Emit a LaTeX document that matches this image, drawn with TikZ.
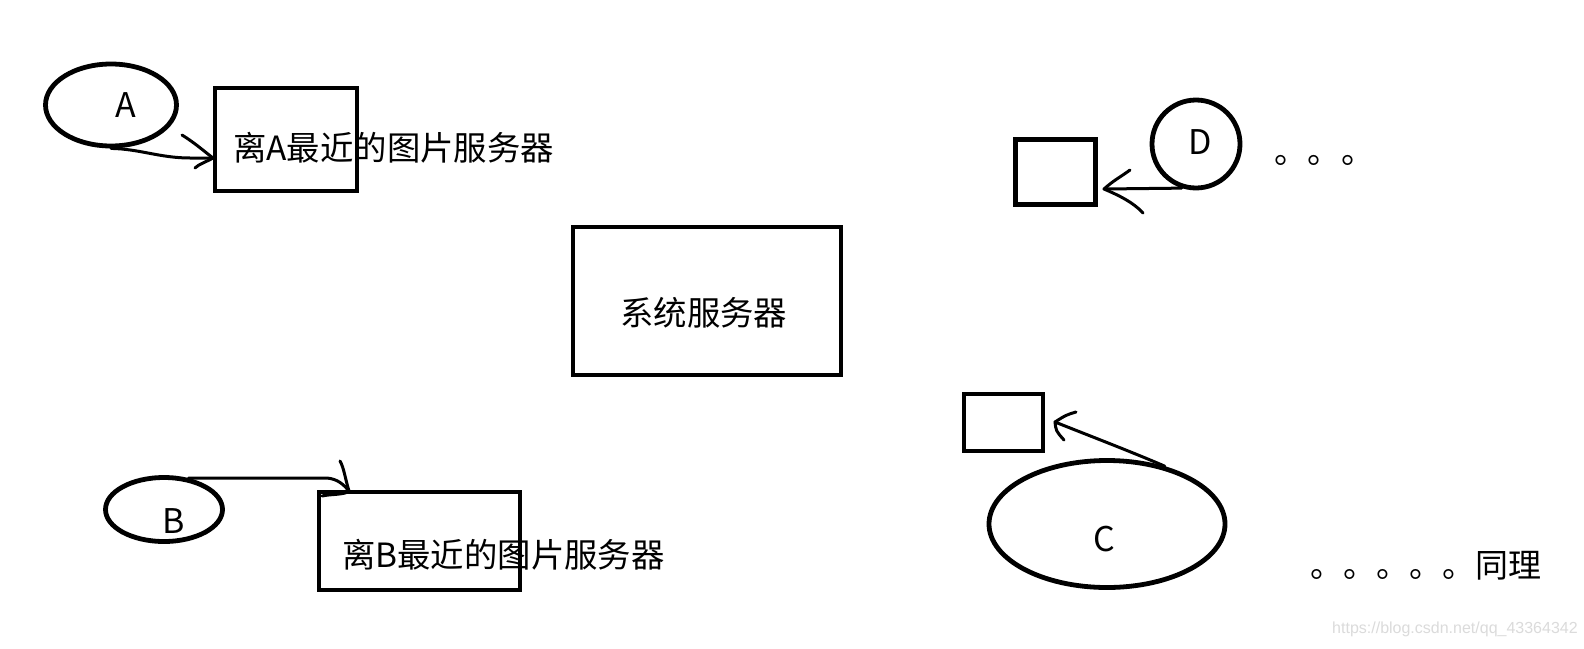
\documentclass[tikz,border=0pt]{standalone}
\usepackage{fontspec}
\setmainfont{Noto Sans CJK SC}
\newfontfamily\wmfont{Liberation Sans}
\usetikzlibrary{shapes.geometric}
\tikzset{
  box/.style={draw, line width=4.8pt, rectangle, inner sep=0pt},
  ell/.style={draw, line width=4.8pt, ellipse, inner sep=0pt},
  circ/.style={draw, line width=4.8pt, circle, inner sep=0pt},
  txt/.style={font=\fontsize{33.4}{40}\selectfont, inner sep=0pt, anchor=base west},
  lbl/.style={font=\fontsize{34}{40}\selectfont, inner sep=0pt},
  conn/.style={line width=3pt, line cap=round, line join=round},
  wm/.style={font=\wmfont\fontsize{16}{19}\selectfont, text=black!14, inner sep=0pt, anchor=base west}
}
\begin{document}
\begin{tikzpicture}[x=1pt,y=-1pt]
\fill[white] (0,0) rectangle (1584,648);
\useasboundingbox (0,0) rectangle (1584,648);
% shapes
\node[ell, minimum width=131, minimum height=82] (eA) at (111,105) {};
\node[lbl] (lA) at (126,105) {A};
\node[box, minimum width=142, minimum height=103] (bA) at (286,139.5) {};
\node[txt] (tAtext) at (233,160) {离A最近的图片服务器};

\node[box, minimum width=268, minimum height=148] (sys) at (707,301) {};
\node[txt] (tsys) at (620,325) {系统服务器};

\node[ell, minimum width=117, minimum height=64] (eB) at (164,509.5) {};
\node[lbl] (lB) at (174,521) {B};
\node[box, minimum width=201, minimum height=98] (bB) at (419.5,541) {};
\node[txt] (tBtext) at (342,567) {离B最近的图片服务器};

\node[box, minimum width=80.5, minimum height=65] (bD) at (1055.5,172) {};
\node[circ, minimum size=88] (cD) at (1196,144) {};
\node[lbl] (lD) at (1200,142) {D};
\node[txt] (dotsD) at (1274,163) {。。。};

\node[box, minimum width=79, minimum height=57] (bC) at (1003.5,422.5) {};
\node[ell, minimum width=236, minimum height=127] (eC) at (1107,524) {};
\node[lbl] (lC) at (1104,539) {C};
\node[txt, font=\fontsize{33}{40}\selectfont] (same) at (1310,577) {。。。。。同理};

\node[wm] (wmark) at (1332,633) {https://blog.csdn.net/qq\_43364342};

% connectors
\coordinate (tA) at (213,158);
\draw[conn] (eA.-90) .. controls (140,149) and (160,158) .. (190,158) -- (tA);
\draw[conn] (182,135) .. controls (195,143) and (205,152) .. (tA)
            .. controls (206,162) and (199,164) .. (195,168);

\coordinate (tB) at (349,491);
\draw[conn] (eB.52) -- (327,478) .. controls (338,479) and (344,485) .. (tB);
\draw[conn] (340,461) .. controls (344,468) and (345,478) .. (tB)
            .. controls (345,495) and (330,494) .. (322,496);

\coordinate (tC) at (1055,422);
\draw[conn] (eC.45) .. controls (1132,452) and (1090,436) .. (tC);
\draw[conn] (1076,412) .. controls (1066,415) .. (tC)
            .. controls (1056,431) .. (1064,440);

\coordinate (tD) at (1104,189);
\draw[conn] (cD.-108) -- (tD);
\draw[conn] (1130,170) .. controls (1122,176) and (1114,180) .. (tD)
            .. controls (1118,195) and (1133,202) .. (1143,213);
\end{tikzpicture}
\end{document}
